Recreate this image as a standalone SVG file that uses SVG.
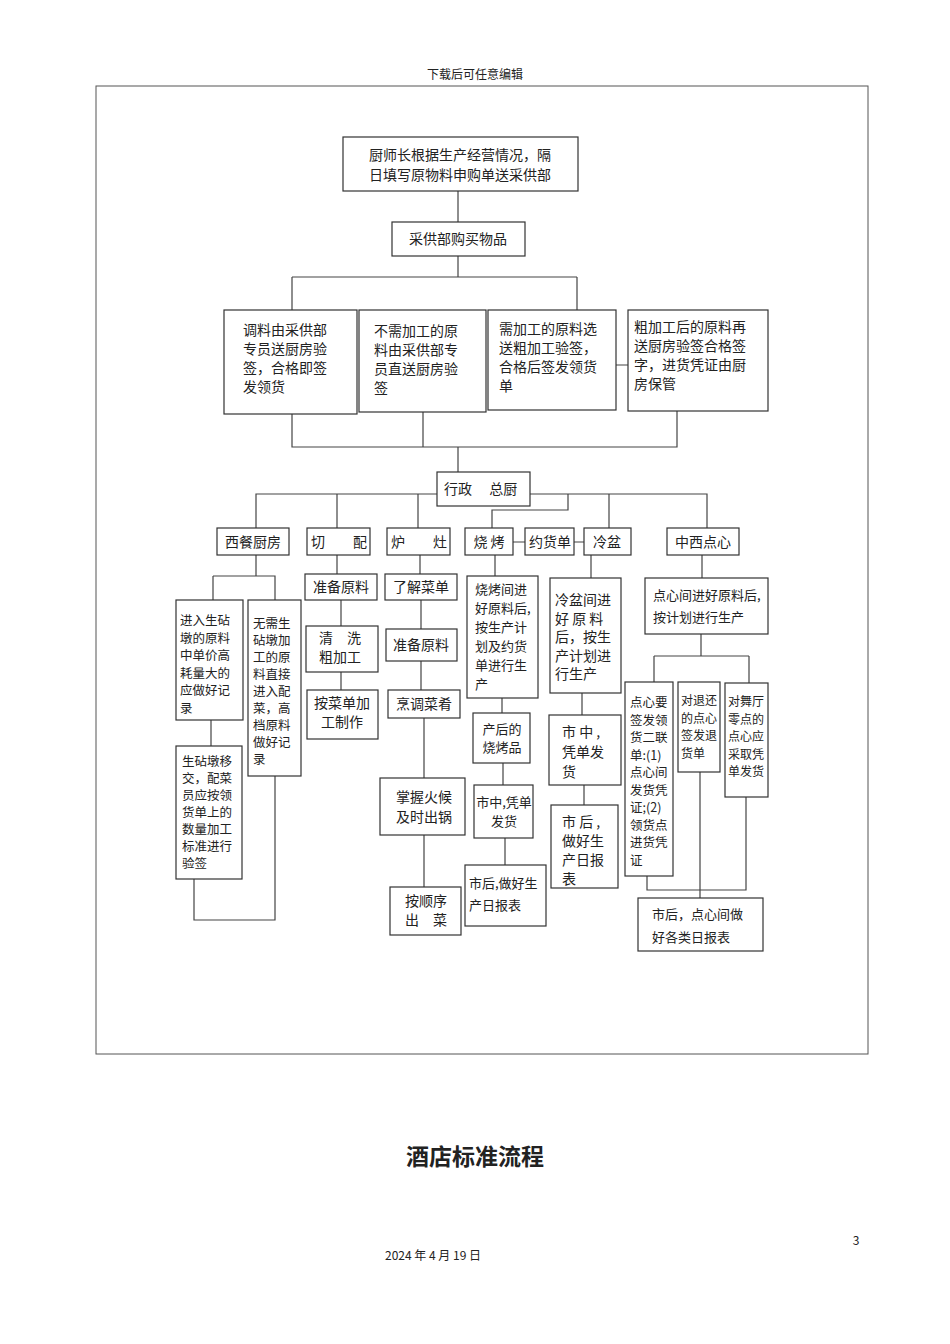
<svg xmlns="http://www.w3.org/2000/svg" width="950" height="1344" viewBox="0 0 950 1344">
<style>
.b{fill:#fff;stroke:#333;stroke-width:1.2}
.t{font-family:"Noto Sans CJK SC","Liberation Sans",sans-serif;font-size:14px;fill:#222}
.s{font-size:13px}
.x{font-size:12.5px}
#connectors path{fill:none;stroke:#444;stroke-width:1.2}
</style>
<rect width="950" height="1344" fill="#fff"/>
<text x="475" y="79" text-anchor="middle" class="t" style="font-size:12px">下载后可任意编辑</text>
<rect x="96" y="86" width="772" height="968" fill="none" stroke="#555" stroke-width="1"/>
<g id="connectors">
<path d="M458 191V222M458 256V277M292 277H577M292 277V310M577 277V310M616 365H628"/>
<path d="M292 414V447H677V411M423 412V447M458 447V472"/>
<path d="M437 494H256V528M337 494V528M418 494V528M530 494H707V528M609 494V528M568 494V510H492V528M513 542H525M574 542H584"/>
<path d="M256 555V576H275V600M213 576V600M213 576H256M211 720V746M194 879V920H275V776"/>
<path d="M337 555V574M341 600V626M341 672V690"/>
<path d="M420 555V574M421 600V629M421 661V690M424 718V778M424 835V887"/>
<path d="M495 555V576M502 698V713M503 763V785M505 838V865"/>
<path d="M591 555V578M582 693V715M584 785V805"/>
<path d="M702 555V578M701 634V656M654 656H749M654 656V682M749 656V683M647 876V890H746V797M700 772V898"/>
</g>
<g id="n1"><rect class="b" x="343" y="137" width="235" height="54"/><text class="t" x="460" y="160" text-anchor="middle">厨师长根据生产经营情况，隔<tspan x="460" dy="20">日填写原物料申购单送采供部</tspan></text></g>
<g id="n2"><rect class="b" x="392" y="222" width="133" height="34"/><text class="t" x="458" y="244" text-anchor="middle">采供部购买物品</text></g>
<g id="nA"><rect class="b" x="224" y="310" width="133" height="104"/><text class="t" x="243" y="335">调料由采供部<tspan x="243" dy="19">专员送厨房验</tspan><tspan x="243" dy="19">签，合格即签</tspan><tspan x="243" dy="19">发领货</tspan></text></g>
<g id="nB"><rect class="b" x="359" y="310" width="127" height="102"/><text class="t" x="374" y="336">不需加工的原<tspan x="374" dy="19">料由采供部专</tspan><tspan x="374" dy="19">员直送厨房验</tspan><tspan x="374" dy="19">签</tspan></text></g>
<g id="nC"><rect class="b" x="488" y="310" width="128" height="100"/><text class="t" x="499" y="334">需加工的原料选<tspan x="499" dy="19">送粗加工验签，</tspan><tspan x="499" dy="19">合格后签发领货</tspan><tspan x="499" dy="19">单</tspan></text></g>
<g id="nD"><rect class="b" x="628" y="310" width="140" height="101"/><text class="t" x="634" y="332">粗加工后的原料再<tspan x="634" dy="19">送厨房验签合格签</tspan><tspan x="634" dy="19">字，进货凭证由厨</tspan><tspan x="634" dy="19">房保管</tspan></text></g>
<g id="nHQ"><rect class="b" x="437" y="472" width="93" height="34"/><text class="t" x="444" y="494">行政　 总厨</text></g>
<g id="nW"><rect class="b" x="217" y="528" width="72" height="27"/><text class="t" x="253" y="547" text-anchor="middle">西餐厨房</text></g>
<g id="nQ"><rect class="b" x="307" y="528" width="63" height="27"/><text class="t" x="311" y="547">切　　配</text></g>
<g id="nL"><rect class="b" x="387" y="528" width="63" height="27"/><text class="t" x="391" y="547">炉　　灶</text></g>
<g id="nS"><rect class="b" x="465" y="528" width="48" height="27"/><text class="t" x="489" y="547" text-anchor="middle">烧 烤</text></g>
<g id="nY"><rect class="b" x="525" y="528" width="49" height="27"/><text class="t" x="550" y="547" text-anchor="middle">约货单</text></g>
<g id="nP"><rect class="b" x="584" y="528" width="47" height="27"/><text class="t" x="607" y="547" text-anchor="middle">冷盆</text></g>
<g id="nZ"><rect class="b" x="667" y="528" width="72" height="27"/><text class="t" x="703" y="547" text-anchor="middle">中西点心</text></g>
<g id="w1"><rect class="b" x="176" y="600" width="67" height="120"/><text class="t x" x="180" y="625">进入生砧<tspan x="180" dy="17.5">墩的原料</tspan><tspan x="180" dy="17.5">中单价高</tspan><tspan x="180" dy="17.5">耗量大的</tspan><tspan x="180" dy="17.5">应做好记</tspan><tspan x="180" dy="17.5">录</tspan></text></g>
<g id="w2"><rect class="b" x="248" y="600" width="53" height="176"/><text class="t x" x="253" y="628">无需生<tspan x="253" dy="17">砧墩加</tspan><tspan x="253" dy="17">工的原</tspan><tspan x="253" dy="17">料直接</tspan><tspan x="253" dy="17">进入配</tspan><tspan x="253" dy="17">菜，高</tspan><tspan x="253" dy="17">档原料</tspan><tspan x="253" dy="17">做好记</tspan><tspan x="253" dy="17">录</tspan></text></g>
<g id="w3"><rect class="b" x="176" y="746" width="66" height="133"/><text class="t x" x="182" y="766">生砧墩移<tspan x="182" dy="17">交，配菜</tspan><tspan x="182" dy="17">员应按领</tspan><tspan x="182" dy="17">货单上的</tspan><tspan x="182" dy="17">数量加工</tspan><tspan x="182" dy="17">标准进行</tspan><tspan x="182" dy="17">验签</tspan></text></g>
<g id="q1"><rect class="b" x="305" y="574" width="72" height="26"/><text class="t" x="341" y="592" text-anchor="middle">准备原料</text></g>
<g id="q2"><rect class="b" x="306" y="626" width="72" height="46"/><text class="t" x="319" y="643">清　洗<tspan x="319" dy="19">粗加工</tspan></text></g>
<g id="q3"><rect class="b" x="307" y="690" width="71" height="49"/><text class="t" x="342" y="708" text-anchor="middle">按菜单加<tspan x="342" dy="19">工制作</tspan></text></g>
<g id="l1"><rect class="b" x="385" y="574" width="72" height="26"/><text class="t" x="421" y="592" text-anchor="middle">了解菜单</text></g>
<g id="l2"><rect class="b" x="386" y="629" width="71" height="32"/><text class="t" x="421" y="650" text-anchor="middle">准备原料</text></g>
<g id="l3"><rect class="b" x="388" y="690" width="72" height="28"/><text class="t" x="424" y="709" text-anchor="middle">烹调菜肴</text></g>
<g id="l4"><rect class="b" x="380" y="778" width="85" height="57"/><text class="t" x="424" y="802" text-anchor="middle">掌握火候<tspan x="424" dy="20">及时出锅</tspan></text></g>
<g id="l5"><rect class="b" x="390" y="887" width="71" height="48"/><text class="t" x="426" y="906" text-anchor="middle">按顺序<tspan x="426" dy="19">出　菜</tspan></text></g>
<g id="s1"><rect class="b" x="467" y="576" width="71" height="122"/><text class="t s" x="475" y="594">烧烤间进<tspan x="475" dy="19">好原料后,</tspan><tspan x="475" dy="19">按生产计</tspan><tspan x="475" dy="19">划及约货</tspan><tspan x="475" dy="19">单进行生</tspan><tspan x="475" dy="19">产</tspan></text></g>
<g id="s2"><rect class="b" x="473" y="713" width="57" height="50"/><text class="t s" x="502" y="734" text-anchor="middle">产后的<tspan x="502" dy="18">烧烤品</tspan></text></g>
<g id="s3"><rect class="b" x="474" y="785" width="59" height="53"/><text class="t s" x="504" y="807" text-anchor="middle">市中,凭单<tspan x="504" dy="19">发货</tspan></text></g>
<g id="s4"><rect class="b" x="465" y="865" width="81" height="61"/><text class="t s" x="469" y="888">市后,做好生<tspan x="469" dy="22">产日报表</tspan></text></g>
<g id="p1"><rect class="b" x="550" y="578" width="71" height="115"/><text class="t" x="555" y="605">冷盆间进<tspan x="555" dy="18.5">好 原 料</tspan><tspan x="555" dy="18.5">后，按生</tspan><tspan x="555" dy="18.5">产计划进</tspan><tspan x="555" dy="18.5">行生产</tspan></text></g>
<g id="p2"><rect class="b" x="549" y="715" width="72" height="70"/><text class="t" x="562" y="737">市 中 ,<tspan x="562" dy="20">凭单发</tspan><tspan x="562" dy="20">货</tspan></text></g>
<g id="p3"><rect class="b" x="551" y="805" width="67" height="83"/><text class="t" x="562" y="827">市 后 ,<tspan x="562" dy="19">做好生</tspan><tspan x="562" dy="19">产日报</tspan><tspan x="562" dy="19">表</tspan></text></g>
<g id="z1"><rect class="b" x="645" y="578" width="123" height="56"/><text class="t s" x="653" y="600">点心间进好原料后,<tspan x="653" dy="22">按计划进行生产</tspan></text></g>
<g id="z2"><rect class="b" x="625" y="682" width="48" height="194"/><text class="t x" x="630" y="707">点心要<tspan x="630" dy="17.5">签发领</tspan><tspan x="630" dy="17.5">货二联</tspan><tspan x="630" dy="17.5">单:(1)</tspan><tspan x="630" dy="17.5">点心间</tspan><tspan x="630" dy="17.5">发货凭</tspan><tspan x="630" dy="17.5">证;(2)</tspan><tspan x="630" dy="17.5">领货点</tspan><tspan x="630" dy="17.5">进货凭</tspan><tspan x="630" dy="17.5">证</tspan></text></g>
<g id="z3"><rect class="b" x="678" y="682" width="42" height="90"/><text class="t" style="font-size:12px" x="681" y="705">对退还<tspan x="681" dy="17.5">的点心</tspan><tspan x="681" dy="17.5">签发退</tspan><tspan x="681" dy="17.5">货单</tspan></text></g>
<g id="z4"><rect class="b" x="725" y="683" width="43" height="114"/><text class="t" style="font-size:12px" x="728" y="706">对舞厅<tspan x="728" dy="17.5">零点的</tspan><tspan x="728" dy="17.5">点心应</tspan><tspan x="728" dy="17.5">采取凭</tspan><tspan x="728" dy="17.5">单发货</tspan></text></g>
<g id="z5"><rect class="b" x="638" y="898" width="125" height="53"/><text class="t s" x="652" y="919">市后，点心间做<tspan x="652" dy="23">好各类日报表</tspan></text></g>
<text x="475" y="1165" text-anchor="middle" class="t" style="font-size:23px;font-weight:bold">酒店标准流程</text>
<text x="856" y="1245" text-anchor="middle" class="t" style="font-size:12px">3</text>
<text x="433" y="1260" text-anchor="middle" class="t" style="font-size:12px">2024 年 4 月 19 日</text>
</svg>
